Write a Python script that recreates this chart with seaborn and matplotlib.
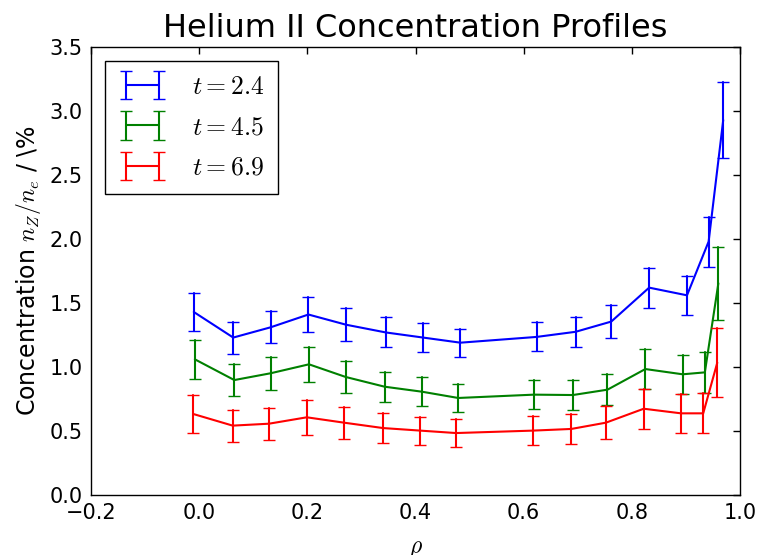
import numpy as np
import pandas as pd
import matplotlib
matplotlib.use("Agg")
import matplotlib.pyplot as plt
import seaborn as sns
from matplotlib.container import ErrorbarContainer
from matplotlib.lines import Line2D
from matplotlib.legend_handler import HandlerErrorbar

# ---- data ----
labels = [r"$t=2.4$", r"$t=4.5$", r"$t=6.9$"]
colors = ["blue", "green", "red"]

rho_24 = [-0.010, 0.063, 0.132, 0.202, 0.272, 0.345, 0.414, 0.483, 0.624, 0.696, 0.762, 0.832, 0.902, 0.942, 0.969]
val_24 = [1.43, 1.23, 1.31, 1.41, 1.33, 1.27, 1.23, 1.19, 1.235, 1.275, 1.355, 1.62, 1.56, 1.98, 2.93]
err_24 = [0.15, 0.125, 0.125, 0.137, 0.128, 0.117, 0.11, 0.11, 0.113, 0.117, 0.13, 0.156, 0.15, 0.195, 0.295]

rho_45 = [-0.008, 0.065, 0.132, 0.203, 0.271, 0.343, 0.412, 0.479, 0.619, 0.691, 0.755, 0.825, 0.894, 0.935, 0.960]
val_45 = [1.06, 0.898, 0.951, 1.021, 0.922, 0.846, 0.807, 0.758, 0.784, 0.781, 0.823, 0.984, 0.943, 0.958, 1.654]
err_45 = [0.151, 0.125, 0.127, 0.137, 0.128, 0.118, 0.112, 0.11, 0.113, 0.117, 0.122, 0.154, 0.152, 0.16, 0.283]

rho_69 = [-0.011, 0.062, 0.129, 0.199, 0.268, 0.340, 0.409, 0.475, 0.617, 0.688, 0.752, 0.822, 0.891, 0.932, 0.958]
val_69 = [0.633, 0.542, 0.557, 0.607, 0.565, 0.523, 0.503, 0.484, 0.503, 0.516, 0.565, 0.674, 0.638, 0.638, 1.034]
err_69 = [0.151, 0.125, 0.126, 0.137, 0.125, 0.117, 0.11, 0.11, 0.113, 0.116, 0.128, 0.155, 0.152, 0.156, 0.27]

series = [(rho_24, val_24, err_24), (rho_45, val_45, err_45), (rho_69, val_69, err_69)]

# long-form table: each point stored as (value-err, value+err) so that the
# mean is the value and the full-range interval is the error bar
rows = []
for lab, (xs, ys, es) in zip(labels, series):
    for x, y, e in zip(xs, ys, es):
        rows.append({"rho": x, "conc": y - e, "t": lab})
        rows.append({"rho": x, "conc": y + e, "t": lab})
df = pd.DataFrame(rows)

# ---- style ----
sns.set_style("white")
plt.rcParams["font.family"] = ["DejaVu Sans"]
plt.rcParams["mathtext.fontset"] = "cm"
plt.rcParams["text.color"] = "black"
plt.rcParams["axes.labelcolor"] = "black"
plt.rcParams["xtick.color"] = "black"
plt.rcParams["ytick.color"] = "black"

fig = plt.figure(figsize=(7.64, 5.55), dpi=100)
ax = fig.add_axes([91 / 764, 1 - 495 / 555, (740 - 91) / 764, (495 - 47) / 555])

sns.lineplot(data=df, x="rho", y="conc", hue="t", hue_order=labels,
             palette=colors, estimator="mean", errorbar=("pi", 100),
             err_style="bars", linewidth=1.5, legend=False, ax=ax,
             err_kws={"capsize": 4.2, "elinewidth": 1.5, "capthick": 1.0})

ax.set_xlim(-0.2, 1.0)
ax.set_ylim(0.0, 3.5)
ax.set_xticks(np.arange(-0.2, 1.01, 0.2))
ax.set_yticks(np.arange(0.0, 3.51, 0.5))
ax.tick_params(direction="in", length=5, width=1, top=True, right=True,
               labelsize=15, colors="black", pad=6)
for s in ax.spines.values():
    s.set_color("black")
    s.set_linewidth(1.0)

ax.set_title("Helium II Concentration Profiles", fontsize=23, pad=7, color="black")
ax.set_xlabel(r"$\rho$", fontsize=17, labelpad=9)
ax.set_ylabel(r"Concentration $n_Z/n_e$ / \%", fontsize=17, labelpad=5)

# legend with errorbar glyphs
handles = []
for cont, c, lab in zip(ax.containers, colors, labels):
    proxy_line = Line2D([], [], color=c, linewidth=1.5)
    handles.append(ErrorbarContainer((proxy_line, cont.lines[1], cont.lines[2]),
                                     has_yerr=True, label=lab))
leg = ax.legend(handles=handles, labels=labels, loc="upper left", numpoints=2,
                fontsize=18.5, frameon=True, fancybox=False, borderaxespad=0.55,
                handlelength=1.9, labelspacing=0.56, handletextpad=1.0,
                borderpad=0.5,
                handler_map={ErrorbarContainer: HandlerErrorbar(yerr_size=0.55)})
leg.get_frame().set_edgecolor("black")
leg.get_frame().set_linewidth(1.0)
leg.get_frame().set_alpha(1.0)

fig.savefig("out.png", dpi=100)
